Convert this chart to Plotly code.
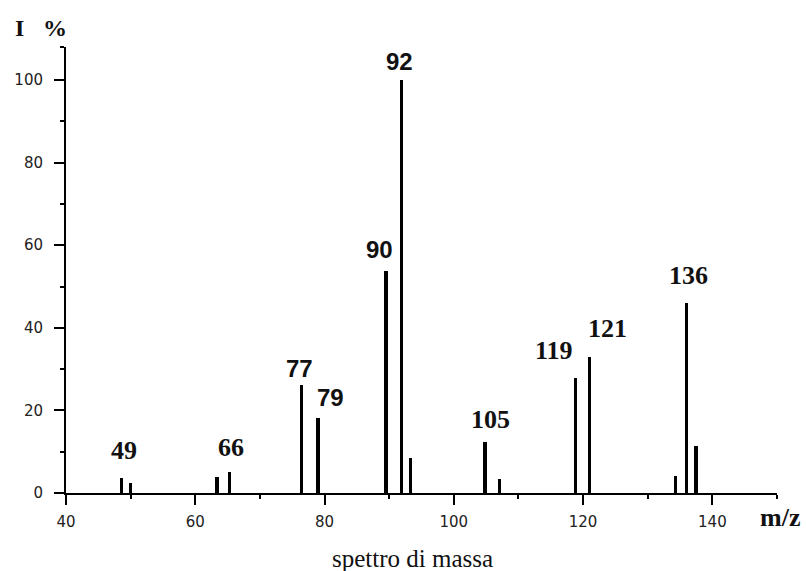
import plotly.graph_objects as go

# ---- data ----
mz = [48.6, 50.0, 63.4, 65.3, 76.4, 79.0, 89.5, 91.9, 93.3, 104.8, 107.1,
      118.8, 121.0, 134.3, 136.0, 137.5]
intensity = [3.7, 2.5, 3.8, 5.2, 26.2, 18.2, 53.8, 100.0, 8.4, 12.4, 3.3,
             27.8, 32.9, 4.2, 46.0, 11.5]

# labelled peaks: label text, m/z of the bar it sits on, its intensity
label_text = ["49", "66", "77", "79", "90", "92", "105", "119", "121", "136"]
label_mz = [48.6, 65.3, 76.4, 79.0, 89.5, 91.9, 104.8, 118.8, 121.0, 136.0]
label_int = [3.7, 5.2, 26.2, 18.2, 53.8, 100.0, 12.4, 27.8, 32.9, 46.0]

x_ticks = [40, 60, 80, 100, 120, 140]
y_ticks = [0, 20, 40, 60, 80, 100]

# ---- styling (offsets in pixels, fonts) ----
label_shift = {  # xshift, yshift (pixels)
    "49": (2, 15), "66": (1, 12), "77": (-2, 5), "79": (12, 9),
    "90": (-6, 10), "92": (-2, 7), "105": (6, 10), "119": (-21, 15),
    "121": (18, 16), "136": (2, 15),
}
sans_labels = {"77", "79", "90", "92"}

L, R, T, B = 66, 29, 47, 78
W, H = 806, 571
pw, ph = W - L - R, H - T - B


def px(x):
    return (x - L) / pw


def py(y):
    return (H - B - y) / ph


fig = go.Figure()
fig.add_trace(go.Bar(
    x=mz, y=intensity, width=0.55,
    marker=dict(color="black", line=dict(width=0)),
    hoverinfo="x+y",
))

annotations = []
for t, xv, yv in zip(label_text, label_mz, label_int):
    xs, ys = label_shift[t]
    if t in sans_labels:
        font = dict(family="Liberation Sans", size=24, color="#111")
    else:
        font = dict(family="Liberation Serif", size=26, color="#111")
    annotations.append(dict(
        x=xv, y=yv, xref="x", yref="y", text=f"<b>{t}</b>",
        showarrow=False, xanchor="center", yanchor="bottom",
        xshift=xs, yshift=ys - 4, font=font,
    ))

# axis titles and caption
annotations += [
    dict(x=px(20), y=py(28), xref="paper", yref="paper", text="<b>I</b>",
         showarrow=False, xanchor="center", yanchor="middle",
         font=dict(family="Liberation Serif", size=24, color="#111")),
    dict(x=px(55), y=py(28), xref="paper", yref="paper", text="<b>%</b>",
         showarrow=False, xanchor="center", yanchor="middle",
         font=dict(family="Liberation Serif", size=24, color="#111")),
    dict(x=px(780), y=py(517), xref="paper", yref="paper", text="<b>m/z</b>",
         showarrow=False, xanchor="center", yanchor="middle",
         font=dict(family="Liberation Serif", size=26, color="#111")),
    dict(x=px(412), y=py(558), xref="paper", yref="paper",
         text="spettro di massa",
         showarrow=False, xanchor="center", yanchor="middle",
         font=dict(family="Liberation Serif", size=25, color="#111")),
]

fig.update_layout(
    width=W, height=H,
    margin=dict(l=L, r=R, t=T, b=B, pad=0),
    paper_bgcolor="white", plot_bgcolor="white",
    showlegend=False, bargap=0,
    annotations=annotations,
    xaxis=dict(
        range=[40, 150], tickvals=x_ticks, ticktext=[str(v) for v in x_ticks],
        showgrid=False, zeroline=False,
        showline=True, linecolor="black", linewidth=2,
        ticks="outside", ticklen=10, tickwidth=2, tickcolor="black",
        minor=dict(dtick=10, tick0=0, ticks="outside", ticklen=4,
                   tickwidth=1.5, tickcolor="black", showgrid=False),
        tickfont=dict(family="DejaVu Sans", size=15, color="#222"),
        ticklabelstandoff=4,
    ),
    yaxis=dict(
        range=[0, 108], tickvals=y_ticks, ticktext=[str(v) for v in y_ticks],
        showgrid=False, zeroline=False,
        showline=True, linecolor="black", linewidth=2,
        ticks="outside", ticklen=10, tickwidth=2, tickcolor="black",
        minor=dict(tickvals=[10, 30, 50, 70, 90, 108], ticks="outside",
                   ticklen=4, tickwidth=1.5, tickcolor="black",
                   showgrid=False),
        tickfont=dict(family="DejaVu Sans", size=15, color="#222"),
        ticklabelstandoff=8,
    ),
)

fig.write_html(
    "out.html",
    config={"displayModeBar": False},
    post_script="document.body.style.margin='0';"
                "document.body.style.overflow='hidden';",
)
